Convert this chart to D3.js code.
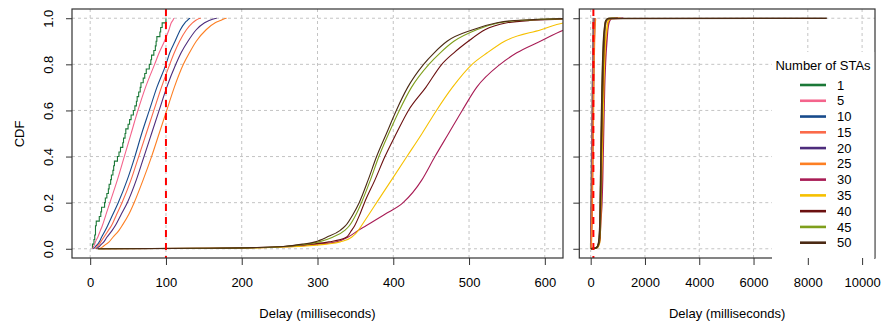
<!DOCTYPE html>
<html><head><meta charset="utf-8">
<script src="https://cdn.jsdelivr.net/npm/d3@7"></script>
<style>
body{margin:0;background:#fff}
text{font-family:"Liberation Sans",Arial,Helvetica,sans-serif;font-size:13px;fill:#000}
</style>
</head><body>
<svg id="c" width="885" height="324"></svg>
<script>
// ---------- data ----------
const stas = [1, 5, 10, 15, 20, 25, 30, 35, 40, 45, 50];
const palette = ["#1b7837", "#f4648c", "#174a8b", "#fb6a4a", "#4d2c7c", "#fd7f23",
                 "#a81c55", "#f6c000", "#6b1010", "#7f9f1c", "#4b2a14"];
const yTicks = [0, 0.2, 0.4, 0.6, 0.8, 1.0];
const xTicksLeft = [0, 100, 200, 300, 400, 500, 600];
const xTicksRight = [0, 2000, 4000, 6000, 8000, 10000];
const deadline = 100;

// 1 STA: raw delay samples (empirical CDF, step plot)
const delays1 = [3, 5, 6, 7, 7, 8, 12, 14, 15, 19, 20, 22, 24, 25, 27, 28, 30, 31, 32, 36,
                 38, 40, 43, 44, 46, 47, 50, 52, 54, 57, 59, 61, 62, 64, 66, 67, 70, 72, 74, 78,
                 80, 81, 84, 86, 87, 88, 92, 93, 95, 100];
// other STAs: delay quantiles at these CDF levels
const probs = [0, 0.002, 0.005, 0.01, 0.02, 0.03, 0.05, 0.08, 0.1, 0.15, 0.2, 0.3, 0.4, 0.5,
               0.6, 0.7, 0.8, 0.85, 0.9, 0.95, 0.98, 0.99, 0.999, 1];
const delays5  = [3, 3.5, 4, 4.5, 6, 7, 10, 13.5, 16, 21, 26, 36, 45, 54, 63, 73, 85, 91, 98, 104, 107, 109, 110.5, 111];
const delays10 = [4, 5, 6, 7, 10, 12, 15, 20, 23, 30, 37, 49, 59, 68, 78, 88, 100, 105, 112, 119, 125, 128, 131, 132];
const delays15 = [6, 7, 8, 9, 12, 14, 18, 24, 28, 35, 42, 54, 64, 74, 84, 94, 105, 111, 118, 127, 135, 139, 144, 146];
const delays20 = [8, 9, 10, 12, 15, 18, 22, 29, 33, 41, 49, 61, 71, 81, 91, 101, 113, 120, 129, 140, 151, 157, 165, 167];
const delays25 = [12, 13, 15, 17, 21, 25, 30, 38, 42, 51, 58, 70, 81, 91, 101, 111, 123, 131, 140, 153, 165, 172, 178, 180];
const delays30 = [12, 165, 225, 268, 300, 325, 340, 354, 364, 389, 413, 438, 455, 473, 491, 510, 541, 563, 594, 626, 670, 700, 780, 1200];
const delays35 = [12, 170, 230, 275, 312, 330, 345, 354, 358, 368, 378, 398, 418, 438, 457, 478, 504, 524, 547, 595, 625, 660, 740, 1100];
const delays40 = [10, 150, 210, 255, 290, 315, 338, 345, 349, 356, 362, 376, 389, 404, 420, 443, 464, 480, 499, 521, 550, 580, 680, 1000];
const delays45 = [10, 160, 220, 258, 285, 302, 320, 336, 342, 351, 358, 370, 381, 394, 408, 424, 447, 462, 480, 510, 540, 565, 650, 900];
const delays50 = [10, 140, 215, 255, 280, 297, 312, 330, 337, 347, 355, 367, 378, 391, 404, 419, 440, 454, 471, 505, 537, 560, 640, 8700];

const smoothSeries = [delays5, delays10, delays15, delays20, delays25, delays30,
                      delays35, delays40, delays45, delays50];

// ---------- build ----------
const svg = d3.select("#c");
svg.append("rect").attr("width", 885).attr("height", 324).attr("fill", "#fff");
const yTop = 9, yBot = 258;
const y = d3.scaleLinear().domain([-0.04, 1.04]).range([yBot, yTop]);

const panels = [
  {id: "L", x: d3.scaleLinear().domain([-24, 624]).range([72, 563]), ticks: xTicksLeft, lw: 1.1, labels: true},
  {id: "R", x: d3.scaleLinear().domain([-419, 10475]).range([579.3, 875]), ticks: xTicksRight, lw: 1.6, labels: false}
];

const ecdf1 = [[delays1[0], 0]].concat(delays1.map((d, i) => [d, (i + 1) / delays1.length]));

panels.forEach(p => {
  const [x0, x1] = p.x.range();
  svg.append("clipPath").attr("id", "clip" + p.id)
    .append("rect").attr("x", x0).attr("y", yTop).attr("width", x1 - x0).attr("height", yBot - yTop);
  const g = svg.append("g");
  // grid
  g.selectAll(".gx").data(p.ticks).join("line")
    .attr("x1", d => p.x(d)).attr("x2", d => p.x(d)).attr("y1", yTop).attr("y2", yBot)
    .attr("stroke", "#c4c4c4").attr("stroke-dasharray", "3,3").attr("stroke-width", 1);
  g.selectAll(".gy").data(yTicks).join("line")
    .attr("x1", x0).attr("x2", x1).attr("y1", d => y(d)).attr("y2", d => y(d))
    .attr("stroke", "#c4c4c4").attr("stroke-dasharray", "3,3").attr("stroke-width", 1);

  const lines = g.append("g").attr("clip-path", `url(#clip${p.id})`);
  // step ECDF for 1 STA
  lines.append("path").datum(ecdf1)
    .attr("d", d3.line().x(d => p.x(d[0])).y(d => y(d[1])).curve(d3.curveStepAfter))
    .attr("fill", "none").attr("stroke", palette[0]).attr("stroke-width", p.lw);
  const smooth = d3.line().x(d => p.x(d[0])).y(d => y(d[1])).curve(d3.curveMonotoneX);
  smoothSeries.forEach((s, i) => {
    const pts = s.map((v, k) => [v, probs[k]]);
    lines.append("path").datum(pts).attr("d", smooth)
      .attr("fill", "none").attr("stroke", palette[i + 1]).attr("stroke-width", p.lw);
  });
  // deadline
  lines.append("line").attr("x1", p.x(deadline)).attr("x2", p.x(deadline))
    .attr("y1", yTop).attr("y2", yBot)
    .attr("stroke", "#ff0000").attr("stroke-width", 2).attr("stroke-dasharray", "7,6");
  // box
  g.append("rect").attr("x", x0).attr("y", yTop).attr("width", x1 - x0).attr("height", yBot - yTop)
    .attr("fill", "none").attr("stroke", "#333").attr("stroke-width", 1.2);
});

// legend
const lg = svg.append("g");
lg.append("rect").attr("x", 772).attr("y", 52).attr("width", 102).attr("height", 210).attr("fill", "#fff");
lg.append("line").attr("x1", 874.5).attr("x2", 874.5).attr("y1", 52).attr("y2", 258)
  .attr("stroke", "#999").attr("stroke-width", 1);
lg.append("text").attr("x", 823).attr("y", 69.5).attr("text-anchor", "middle").text("Number of STAs");
const rowY = d3.scaleLinear().domain([0, stas.length - 1]).range([85, 242.7]);
stas.forEach((s, i) => {
  lg.append("line").attr("x1", 800).attr("x2", 826).attr("y1", rowY(i)).attr("y2", rowY(i))
    .attr("stroke", palette[i]).attr("stroke-width", 2.6);
  lg.append("text").attr("x", 837).attr("y", rowY(i) + 4.6).text(s);
});

// axes
panels.forEach(p => {
  const ax = svg.append("g").attr("transform", `translate(0,${yBot})`)
    .call(d3.axisBottom(p.x).tickValues(p.ticks).tickSize(7).tickFormat(d3.format("d")));
  ax.select(".domain").remove();
  ax.selectAll("line").attr("stroke", "#333");
  ax.selectAll("text").attr("y", 28.5).attr("dy", null)
    .style("font-family", '"Liberation Sans",Arial,sans-serif').style("font-size", "13px");

  const x0 = p.x.range()[0];
  const ay = svg.append("g").attr("transform", `translate(${x0},0)`)
    .call(d3.axisLeft(y).tickValues(yTicks).tickSize(6).tickFormat(p.labels ? d3.format(".1f") : ""));
  ay.select(".domain").remove();
  ay.selectAll("line").attr("stroke", "#333");
  ay.selectAll("text").attr("x", null).attr("dy", "0.35em").attr("text-anchor", "middle")
    .attr("transform", "translate(-23.7,0) rotate(-90)")
    .style("font-family", '"Liberation Sans",Arial,sans-serif').style("font-size", "13px");

  const [a, b] = p.x.range();
  svg.append("text").attr("x", (a + b) / 2).attr("y", 318).attr("text-anchor", "middle")
    .text("Delay (milliseconds)");
});

svg.append("text").attr("transform", "translate(23.5,134) rotate(-90)")
  .attr("text-anchor", "middle").text("CDF");
</script>
</body></html>
